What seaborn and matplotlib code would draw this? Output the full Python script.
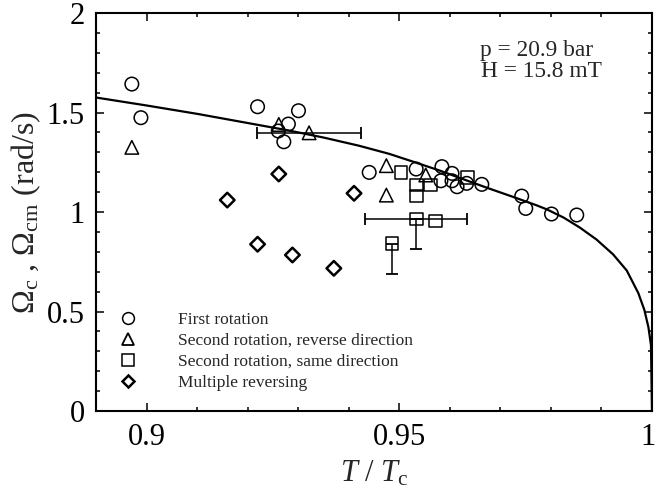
import numpy as np
import pandas as pd
import matplotlib
matplotlib.use("Agg")
import matplotlib.pyplot as plt
import matplotlib.transforms as mtransforms
from matplotlib.lines import Line2D
import seaborn as sns

# ---- data ----
first_x = [0.8970, 0.8988, 0.9219, 0.9300, 0.9280, 0.9260, 0.9271, 0.9440, 0.9533, 0.9584,
           0.9604, 0.9582, 0.9604, 0.9614, 0.9633, 0.9663, 0.9742, 0.9750, 0.9801, 0.9851]
first_y = [1.643, 1.474, 1.529, 1.509, 1.442, 1.407, 1.353, 1.199, 1.216, 1.228,
           1.194, 1.157, 1.157, 1.127, 1.144, 1.139, 1.080, 1.018, 0.990, 0.985]

rev_x = [0.8970, 0.9261, 0.9321, 0.9474, 0.9474, 0.9552]
rev_y = [1.325, 1.440, 1.398, 1.233, 1.085, 1.186]

same_x = [0.9503, 0.9533, 0.9533, 0.9562, 0.9634, 0.9533, 0.9572, 0.9485]
same_y = [1.199, 1.136, 1.080, 1.136, 1.174, 0.965, 0.955, 0.841]

multi_x = [0.9159, 0.9219, 0.9261, 0.9288, 0.9370, 0.9410]
multi_y = [1.060, 0.838, 1.191, 0.784, 0.717, 1.094]

# error bars: (x, y, xerr, yerr_low, yerr_high)
err_x = [0.9321, 0.9533, 0.9485]
err_y = [1.398, 0.965, 0.841]
err_xerr = [0.0103, 0.0101, 0.0]
err_ylo = [0.0, 0.150, 0.155]
err_yhi = [0.0, 0.0, 0.0]

curve_x = [0.890, 0.900, 0.910, 0.920, 0.928, 0.935, 0.942, 0.948, 0.9528, 0.958,
           0.9625, 0.9673, 0.9726, 0.9770, 0.9792, 0.9825, 0.9857, 0.9890, 0.9923,
           0.9950, 0.9973, 0.9985, 0.9993, 0.9998, 1.0]
curve_y = [1.575, 1.535, 1.493, 1.447, 1.410, 1.374, 1.333, 1.292, 1.252, 1.208,
           1.166, 1.122, 1.075, 1.035, 1.013, 0.972, 0.922, 0.862, 0.787,
           0.706, 0.592, 0.507, 0.420, 0.330, 0.0]

labels = ["First rotation", "Second rotation, reverse direction",
          "Second rotation, same direction", "Multiple reversing"]
xticks = [0.9, 0.95, 1.0]
xticklabels = ["0.9", "0.95", "1"]
yticks = [0, 0.5, 1, 1.5, 2]
yticklabels = ["0", "0.5", "1", "1.5", "2"]

# ---- style ----
sns.set_style("ticks")
plt.rcParams["font.family"] = ["Liberation Serif", "DejaVu Serif"]
plt.rcParams["mathtext.fontset"] = "custom"
plt.rcParams["mathtext.rm"] = "Liberation Serif"
plt.rcParams["mathtext.it"] = "Liberation Serif:italic"

fig = plt.figure(figsize=(6.56, 4.95), dpi=100)
ax = fig.add_axes([0.1463, 0.1697, 0.9939 - 0.1463, 0.9737 - 0.1697])

sns.lineplot(x=curve_x, y=curve_y, ax=ax, color="black", lw=1.6, sort=False,
             estimator=None)

mk = dict(facecolor="none", edgecolor="black", linewidth=1.1, zorder=3)
sns.scatterplot(x=first_x, y=first_y, marker="o", s=95, ax=ax, **mk)
sns.scatterplot(x=rev_x, y=rev_y, marker="^", s=95, ax=ax, **mk)
sns.scatterplot(x=same_x, y=same_y, marker="s", s=85, ax=ax, **mk)
sns.scatterplot(x=multi_x, y=multi_y, marker="D", s=55, ax=ax,
                facecolor="none", edgecolor="black", linewidth=1.8, zorder=3)

for x, y, xe, ylo, yhi in zip(err_x, err_y, err_xerr, err_ylo, err_yhi):
    ax.errorbar([x], [y], xerr=[[xe], [xe]] if xe > 0 else None,
                yerr=[[ylo], [yhi]] if (ylo > 0 or yhi > 0) else None,
                fmt="none", ecolor="black", elinewidth=1.1, capsize=4,
                capthick=1.3, zorder=2)

ax.set_xlim(0.8899, 1.0)
ax.set_ylim(0, 2)
ax.set_xticks(xticks)
ax.set_xticklabels(xticklabels)
ax.set_yticks(yticks)
ax.set_yticklabels(yticklabels)
ax.set_xticks(np.arange(0.89, 1.0001, 0.01), minor=True)
ax.set_yticks(np.arange(0, 2.0001, 0.1), minor=True)
ax.tick_params(which="both", direction="in", top=True, right=True, width=1.1,
               labelsize=22, colors="black")
ax.tick_params(which="major", length=6)
ax.tick_params(which="minor", length=3)
ax.tick_params(axis="x", pad=9)
ax.tick_params(axis="y", pad=8)
for sp in ax.spines.values():
    sp.set_linewidth(1.5)
    sp.set_color("black")

# keep the last x tick label inside the figure
last = ax.get_xticklabels()[-1]
last.set_transform(last.get_transform() +
                   mtransforms.ScaledTranslation(-4 / 100, 0, fig.dpi_scale_trans))

ax.set_xlabel(r"$T\ /\ T_{\rm c}$", fontsize=22, labelpad=5)
ax.set_ylabel(r"$\Omega_{\rm c}$ , $\Omega_{\rm cm}$ (rad/s)", fontsize=23, labelpad=3)

ax.text(0.9659, 1.782, "p = 20.9 bar", fontsize=16.8, va="baseline", ha="left")
ax.text(0.9661, 1.676, "H = 15.8 mT", fontsize=16.8, va="baseline", ha="left")

handles = [
    Line2D([], [], ls="none", marker="o", mfc="none", mec="black", ms=8.5, mew=1.1),
    Line2D([], [], ls="none", marker="^", mfc="none", mec="black", ms=8.5, mew=1.3),
    Line2D([], [], ls="none", marker="s", mfc="none", mec="black", ms=8, mew=1.1),
    Line2D([], [], ls="none", marker="D", mfc="none", mec="black", ms=6.5, mew=1.8),
]
ax.legend(handles, labels, loc="upper left", bbox_to_anchor=(0.042, 0.25),
          frameon=False, fontsize=12.5, handlelength=1.0, handletextpad=2.4,
          labelspacing=0.28, borderaxespad=0, borderpad=0)

fig.savefig("out.png", dpi=100)
